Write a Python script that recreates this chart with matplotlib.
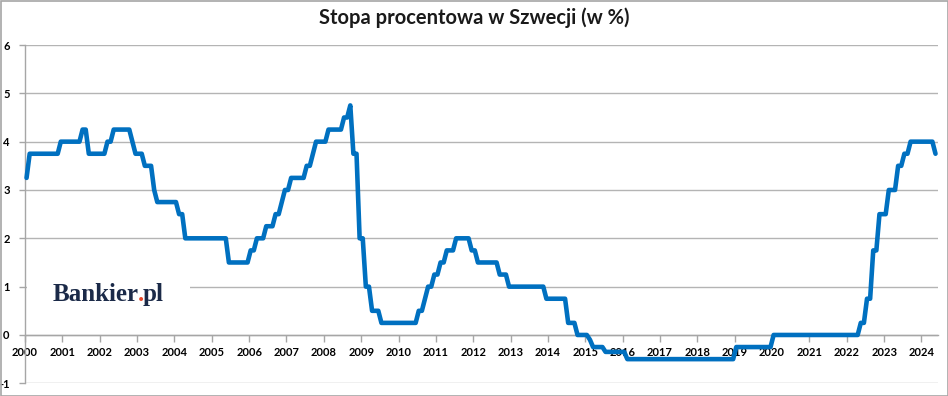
import matplotlib
matplotlib.use("Agg")
import matplotlib.pyplot as plt
from matplotlib.patches import Rectangle
import numpy as np

plt.rcParams['axes.unicode_minus'] = False

# ---- data: Riksbank repo rate, monthly (Jan 2000 - May 2024), in % ----
start_year = 2000
rate_2000 = [3.25, 3.75, 3.75, 3.75, 3.75, 3.75, 3.75, 3.75, 3.75, 3.75, 3.75, 4.00]
rate_2001 = [4.00, 4.00, 4.00, 4.00, 4.00, 4.00, 4.25, 4.25, 3.75, 3.75, 3.75, 3.75]
rate_2002 = [3.75, 3.75, 4.00, 4.00, 4.25, 4.25, 4.25, 4.25, 4.25, 4.25, 4.00, 3.75]
rate_2003 = [3.75, 3.75, 3.50, 3.50, 3.50, 3.00, 2.75, 2.75, 2.75, 2.75, 2.75, 2.75]
rate_2004 = [2.75, 2.50, 2.50, 2.00, 2.00, 2.00, 2.00, 2.00, 2.00, 2.00, 2.00, 2.00]
rate_2005 = [2.00, 2.00, 2.00, 2.00, 2.00, 1.50, 1.50, 1.50, 1.50, 1.50, 1.50, 1.50]
rate_2006 = [1.75, 1.75, 2.00, 2.00, 2.00, 2.25, 2.25, 2.25, 2.50, 2.50, 2.75, 3.00]
rate_2007 = [3.00, 3.25, 3.25, 3.25, 3.25, 3.25, 3.50, 3.50, 3.75, 4.00, 4.00, 4.00]
rate_2008 = [4.00, 4.25, 4.25, 4.25, 4.25, 4.25, 4.50, 4.50, 4.75, 3.75, 3.75, 2.00]
rate_2009 = [2.00, 1.00, 1.00, 0.50, 0.50, 0.50, 0.25, 0.25, 0.25, 0.25, 0.25, 0.25]
rate_2010 = [0.25, 0.25, 0.25, 0.25, 0.25, 0.25, 0.50, 0.50, 0.75, 1.00, 1.00, 1.25]
rate_2011 = [1.25, 1.50, 1.50, 1.75, 1.75, 1.75, 2.00, 2.00, 2.00, 2.00, 2.00, 1.75]
rate_2012 = [1.75, 1.50, 1.50, 1.50, 1.50, 1.50, 1.50, 1.50, 1.25, 1.25, 1.25, 1.00]
rate_2013 = [1.00, 1.00, 1.00, 1.00, 1.00, 1.00, 1.00, 1.00, 1.00, 1.00, 1.00, 0.75]
rate_2014 = [0.75, 0.75, 0.75, 0.75, 0.75, 0.75, 0.25, 0.25, 0.25, 0.00, 0.00, 0.00]
rate_2015 = [0.00, -0.10, -0.25, -0.25, -0.25, -0.25, -0.35, -0.35, -0.35, -0.35, -0.35, -0.35]
rate_2016 = [-0.35, -0.50, -0.50, -0.50, -0.50, -0.50, -0.50, -0.50, -0.50, -0.50, -0.50, -0.50]
rate_2017 = [-0.50, -0.50, -0.50, -0.50, -0.50, -0.50, -0.50, -0.50, -0.50, -0.50, -0.50, -0.50]
rate_2018 = [-0.50, -0.50, -0.50, -0.50, -0.50, -0.50, -0.50, -0.50, -0.50, -0.50, -0.50, -0.50]
rate_2019 = [-0.25, -0.25, -0.25, -0.25, -0.25, -0.25, -0.25, -0.25, -0.25, -0.25, -0.25, -0.25]
rate_2020 = [0.00, 0.00, 0.00, 0.00, 0.00, 0.00, 0.00, 0.00, 0.00, 0.00, 0.00, 0.00]
rate_2021 = [0.00, 0.00, 0.00, 0.00, 0.00, 0.00, 0.00, 0.00, 0.00, 0.00, 0.00, 0.00]
rate_2022 = [0.00, 0.00, 0.00, 0.00, 0.25, 0.25, 0.75, 0.75, 1.75, 1.75, 2.50, 2.50]
rate_2023 = [2.50, 3.00, 3.00, 3.00, 3.50, 3.50, 3.75, 3.75, 4.00, 4.00, 4.00, 4.00]
rate_2024 = [4.00, 4.00, 4.00, 4.00, 3.75]

year_ticks = list(range(2000, 2025))
y_ticks = [-1, 0, 1, 2, 3, 4, 5, 6]
title = "Stopa procentowa w Szwecji (w %)"

rate = (rate_2000 + rate_2001 + rate_2002 + rate_2003 + rate_2004 + rate_2005 +
        rate_2006 + rate_2007 + rate_2008 + rate_2009 + rate_2010 + rate_2011 +
        rate_2012 + rate_2013 + rate_2014 + rate_2015 + rate_2016 + rate_2017 +
        rate_2018 + rate_2019 + rate_2020 + rate_2021 + rate_2022 + rate_2023 +
        rate_2024)
# mid-month positions in decimal years
t = start_year + (np.arange(len(rate)) + 0.5) / 12.0

# ---- figure ----
W, H = 948, 396
fig = plt.figure(figsize=(W / 100, H / 100), dpi=100)
fig.patch.set_facecolor("white")

x0, x1, ytop, ybot = 25, 938.3, 45, 383.3
ax = fig.add_axes([x0 / W, 1 - ybot / H, (x1 - x0) / W, (ybot - ytop) / H])
ax.set_xlim(2000, 2024.45)
ax.set_ylim(-1, 6)

grid_c = "#b4b4b4"
axis_c = "#a6a6a6"
ax.set_yticks(y_ticks)
ax.yaxis.grid(True, color=grid_c, lw=1.0)
ax.set_axisbelow(True)
ax.set_xticks(year_ticks)

for s in ("top", "right"):
    ax.spines[s].set_visible(False)
ax.spines["left"].set_color(axis_c)
ax.spines["left"].set_linewidth(1.0)
ax.spines["bottom"].set_position(("data", 0))
ax.spines["bottom"].set_color(axis_c)
ax.spines["bottom"].set_linewidth(1.0)

tick_font = dict(family="Lato", weight="bold", size=8)
ax.tick_params(axis="x", direction="out", length=5, width=1, color=axis_c, pad=3.5)
ax.tick_params(axis="y", direction="out", length=4, width=1, color=axis_c, pad=7)
ax.set_xticklabels([str(y) for y in year_ticks], **tick_font)
ax.set_yticklabels([str(v) for v in y_ticks], **tick_font)

ax.plot(t, rate, color="#0070c0", lw=3.3, solid_joinstyle="round",
        solid_capstyle="round", clip_on=False, zorder=5)

# title
fig.text(0.5, 1 - 18 / H, title, ha="center", va="center",
         fontfamily="Lato", fontweight="bold", fontsize=14.5, color="#1a1a1a")

# logo box (white, hides gridline) and logo text
fig.patches.append(Rectangle((26.5 / W, 1 - 305 / H), (190 - 26.5) / W, 33 / H,
                             transform=fig.transFigure, facecolor="white",
                             edgecolor="none", zorder=2))
logo_c = "#1b2a48"
logo_font = dict(fontfamily="Liberation Serif", fontweight="bold", fontsize=18)
lx, ly = 53 / W, 1 - 301 / H
t1 = fig.text(lx, ly, "Bankier", color=logo_c, zorder=3, va="baseline", **logo_font)
fig.canvas.draw()
r = fig.canvas.get_renderer()
bb = t1.get_window_extent(r)
t2 = fig.text((bb.x1 - 1.5) / W, ly, ".", color="#e8472a", zorder=3,
              va="baseline", **logo_font)
bb2 = t2.get_window_extent(r)
fig.text((bb2.x1 - 1.5) / W, ly, "pl", color=logo_c, zorder=3, va="baseline",
         **logo_font)

# outer frame
fig.patches.append(Rectangle((0.5 / W, 0.5 / H), (W - 1) / W, (H - 1) / H,
                             transform=fig.transFigure, fill=False,
                             edgecolor="#a6a6a6", lw=1.2, zorder=10))

fig.savefig("out.png", dpi=100)
